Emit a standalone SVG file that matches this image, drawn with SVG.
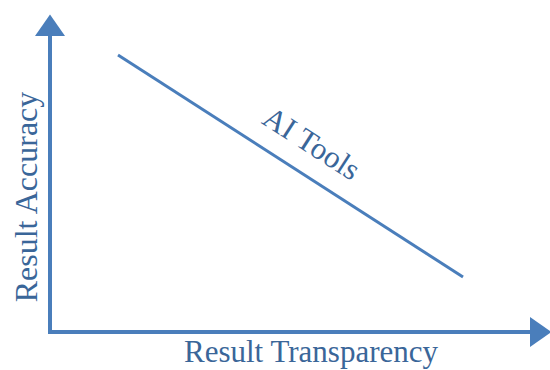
<svg xmlns="http://www.w3.org/2000/svg" width="550" height="370" viewBox="0 0 550 370">
<style>
.ax{stroke:#4a7ebb;stroke-width:4;fill:none}
.ln{stroke:#4a7ebb;stroke-width:3;fill:none}
.t{font-family:"Liberation Serif","Times New Roman",serif;fill:#3a6699}
</style>
<defs>
<marker id="ah" markerUnits="userSpaceOnUse" markerWidth="30" markerHeight="30" refX="0" refY="14" orient="auto" viewBox="0 0 20 28">
<path d="M0,0 L20,14 L0,28 Z" fill="#4a7ebb"/>
</marker>
</defs>
<rect width="550" height="370" fill="#fff"/>
<g id="connectors">
<line class="ax" x1="50" y1="333" x2="50" y2="36" marker-end="url(#ah)"/>
<line class="ax" x1="48" y1="332" x2="530" y2="332" marker-end="url(#ah)"/>
</g>
<g id="ai-tools">
<line class="ln" x1="118" y1="55" x2="463" y2="277"/>
<text class="t" font-size="31" text-anchor="middle" transform="translate(306,152) rotate(32.8)">AI Tools</text>
</g>
<g id="x-label">
<text class="t" font-size="31" x="311" y="362" text-anchor="middle">Result Transparency</text>
</g>
<g id="y-label">
<text class="t" font-size="32" text-anchor="middle" transform="translate(37,197) rotate(-90)">Result Accuracy</text>
</g>
</svg>
